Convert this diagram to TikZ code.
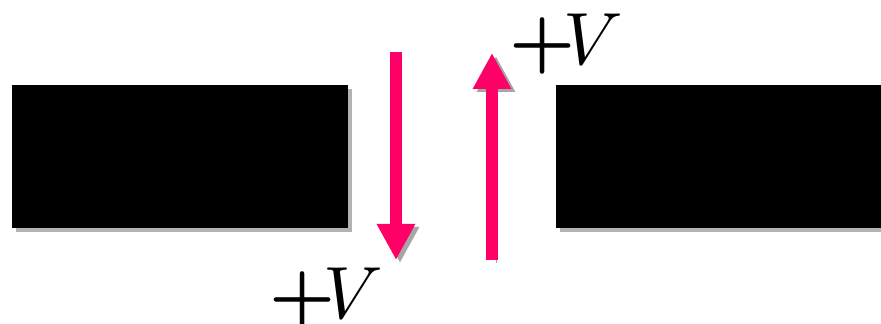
\documentclass[tikz,border=0pt]{standalone}
\usepackage{amsmath,amssymb}
\usepackage{xcolor}
\usepackage{tikz}
\usetikzlibrary{arrows.meta, positioning, shadows}

\definecolor{fieldpink}{HTML}{FF0066}

\begin{document}
\begin{tikzpicture}[
    x=1pt, y=1pt,
    plate/.style={rectangle, fill=black, draw=none, inner sep=0pt, minimum height=143pt,
        drop shadow={shadow xshift=4pt, shadow yshift=-4pt, fill=black, opacity=0.3}},
    fieldarrow/.style={-{Triangle[width=36pt, length=36pt]}, line width=11.5pt, draw=fieldpink,
        preaction={draw=black!35, transform canvas={shift={(4pt,-3pt)}}}},
    vlabel/.style={inner sep=0pt, anchor=base west, scale=7.4, transform shape}
]
\useasboundingbox (0,0) rectangle (881,324);

% Plates
\node[plate, minimum width=336pt] (leftplate) at (180,167.5) {};
\node[plate, minimum width=325pt] (rightplate) at (718.5,167.5) {};

% Arrow end points
\coordinate (downstart) at (396,272);
\coordinate (downend) at (396,64);
\coordinate (upstart) at (492,64);
\coordinate (upend) at (492,271);

% Arrows
\draw[fieldarrow] (downstart) -- (downend);
\draw[fieldarrow] (upstart) -- (upend);

% Labels
\node[vlabel] (vdown) at (268,6) {$\boldsymbol{+}\mkern-3mu V$};
\node[vlabel] (vup) at (508,260) {$\boldsymbol{+}\mkern-3mu V$};

\end{tikzpicture}
\end{document}
